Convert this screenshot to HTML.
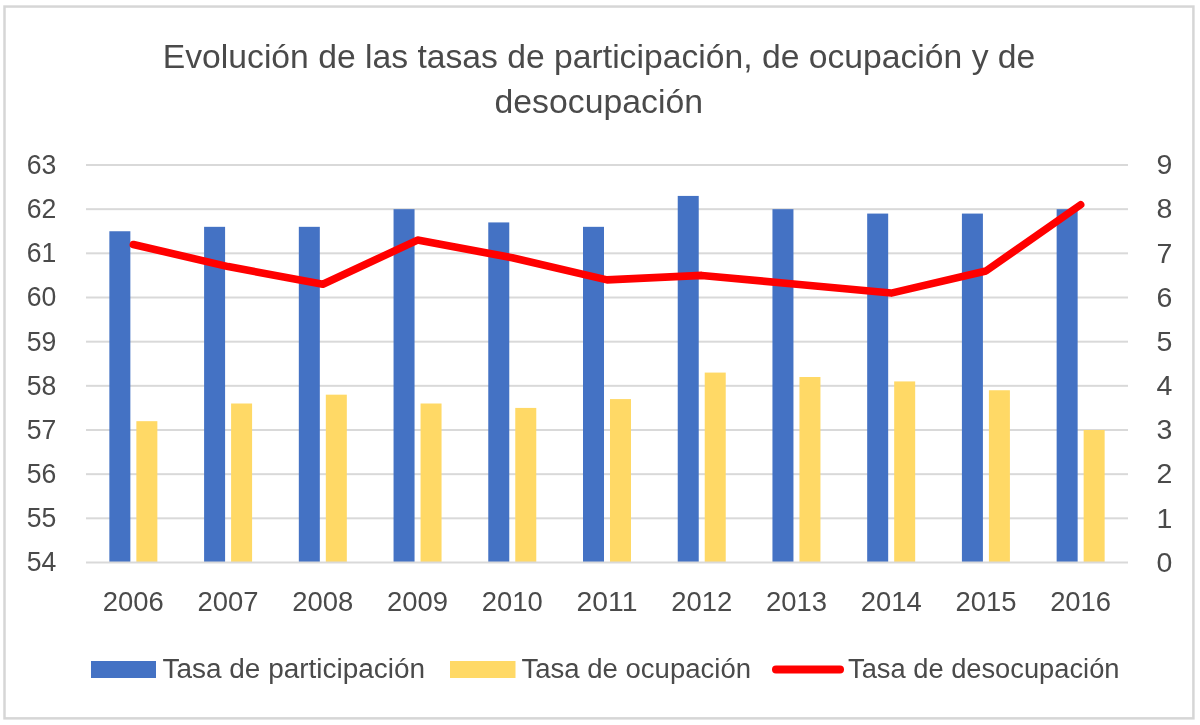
<!DOCTYPE html><html><head><meta charset="utf-8"><style>html,body{margin:0;padding:0;background:#fff;}svg{display:block;filter:blur(0.6px);}text{font-family:"Liberation Sans",sans-serif;fill:#4a4a4a;}</style></head><body>
<svg width="1200" height="725" viewBox="0 0 1200 725">
<rect x="0" y="0" width="1200" height="725" fill="#fff"/>
<rect x="4.5" y="6.55" width="1188.9" height="711.8" fill="#fff" stroke="#d6d6d6" stroke-width="2.5"/>
<rect x="86" y="164.00" width="1042" height="2" fill="#d9d9d9"/>
<rect x="86" y="208.17" width="1042" height="2" fill="#d9d9d9"/>
<rect x="86" y="252.33" width="1042" height="2" fill="#d9d9d9"/>
<rect x="86" y="296.50" width="1042" height="2" fill="#d9d9d9"/>
<rect x="86" y="340.67" width="1042" height="2" fill="#d9d9d9"/>
<rect x="86" y="384.83" width="1042" height="2" fill="#d9d9d9"/>
<rect x="86" y="429.00" width="1042" height="2" fill="#d9d9d9"/>
<rect x="86" y="473.17" width="1042" height="2" fill="#d9d9d9"/>
<rect x="86" y="517.33" width="1042" height="2" fill="#d9d9d9"/>
<rect x="109.36" y="231.25" width="21" height="331.25" fill="#4472c4"/>
<rect x="136.36" y="421.17" width="21" height="141.33" fill="#ffd966"/>
<rect x="204.09" y="226.83" width="21" height="335.67" fill="#4472c4"/>
<rect x="231.09" y="403.50" width="21" height="159.00" fill="#ffd966"/>
<rect x="298.82" y="226.83" width="21" height="335.67" fill="#4472c4"/>
<rect x="325.82" y="394.67" width="21" height="167.83" fill="#ffd966"/>
<rect x="393.55" y="209.17" width="21" height="353.33" fill="#4472c4"/>
<rect x="420.55" y="403.50" width="21" height="159.00" fill="#ffd966"/>
<rect x="488.27" y="222.42" width="21" height="340.08" fill="#4472c4"/>
<rect x="515.27" y="407.92" width="21" height="154.58" fill="#ffd966"/>
<rect x="583.00" y="226.83" width="21" height="335.67" fill="#4472c4"/>
<rect x="610.00" y="399.08" width="21" height="163.42" fill="#ffd966"/>
<rect x="677.73" y="195.92" width="21" height="366.58" fill="#4472c4"/>
<rect x="704.73" y="372.58" width="21" height="189.92" fill="#ffd966"/>
<rect x="772.45" y="209.17" width="21" height="353.33" fill="#4472c4"/>
<rect x="799.45" y="377.00" width="21" height="185.50" fill="#ffd966"/>
<rect x="867.18" y="213.58" width="21" height="348.92" fill="#4472c4"/>
<rect x="894.18" y="381.42" width="21" height="181.08" fill="#ffd966"/>
<rect x="961.91" y="213.58" width="21" height="348.92" fill="#4472c4"/>
<rect x="988.91" y="390.25" width="21" height="172.25" fill="#ffd966"/>
<rect x="1056.64" y="209.17" width="21" height="353.33" fill="#4472c4"/>
<rect x="1083.64" y="430.00" width="21" height="132.50" fill="#ffd966"/>
<rect x="86" y="561.50" width="1042" height="2" fill="#d9d9d9"/>
<polyline points="133.36,244.50 228.09,266.58 322.82,284.25 417.55,240.08 512.27,257.75 607.00,279.83 701.73,275.42 796.45,284.25 891.18,293.08 985.91,271.00 1080.64,204.75" fill="none" stroke="#ff0000" stroke-width="7.6" stroke-linejoin="round" stroke-linecap="round"/>
<text x="162.8" y="67.5" font-size="33" textLength="872.5" lengthAdjust="spacingAndGlyphs">Evolución de las tasas de participación, de ocupación y de</text>
<text x="494.5" y="113" font-size="33" textLength="208.5" lengthAdjust="spacingAndGlyphs">desocupación</text>
<text x="56.3" y="173.90" font-size="28.5" text-anchor="end" textLength="29.6" lengthAdjust="spacingAndGlyphs">63</text>
<text x="1156.5" y="174.30" font-size="28.5">9</text>
<text x="56.3" y="218.07" font-size="28.5" text-anchor="end" textLength="29.6" lengthAdjust="spacingAndGlyphs">62</text>
<text x="1156.5" y="218.47" font-size="28.5">8</text>
<text x="56.3" y="262.23" font-size="28.5" text-anchor="end" textLength="29.6" lengthAdjust="spacingAndGlyphs">61</text>
<text x="1156.5" y="262.63" font-size="28.5">7</text>
<text x="56.3" y="306.40" font-size="28.5" text-anchor="end" textLength="29.6" lengthAdjust="spacingAndGlyphs">60</text>
<text x="1156.5" y="306.80" font-size="28.5">6</text>
<text x="56.3" y="350.57" font-size="28.5" text-anchor="end" textLength="29.6" lengthAdjust="spacingAndGlyphs">59</text>
<text x="1156.5" y="350.97" font-size="28.5">5</text>
<text x="56.3" y="394.73" font-size="28.5" text-anchor="end" textLength="29.6" lengthAdjust="spacingAndGlyphs">58</text>
<text x="1156.5" y="395.13" font-size="28.5">4</text>
<text x="56.3" y="438.90" font-size="28.5" text-anchor="end" textLength="29.6" lengthAdjust="spacingAndGlyphs">57</text>
<text x="1156.5" y="439.30" font-size="28.5">3</text>
<text x="56.3" y="483.07" font-size="28.5" text-anchor="end" textLength="29.6" lengthAdjust="spacingAndGlyphs">56</text>
<text x="1156.5" y="483.47" font-size="28.5">2</text>
<text x="56.3" y="527.23" font-size="28.5" text-anchor="end" textLength="29.6" lengthAdjust="spacingAndGlyphs">55</text>
<text x="1156.5" y="527.63" font-size="28.5">1</text>
<text x="56.3" y="571.40" font-size="28.5" text-anchor="end" textLength="29.6" lengthAdjust="spacingAndGlyphs">54</text>
<text x="1156.5" y="571.80" font-size="28.5">0</text>
<text x="133.36" y="611" font-size="28.5" text-anchor="middle" textLength="61" lengthAdjust="spacingAndGlyphs">2006</text>
<text x="228.09" y="611" font-size="28.5" text-anchor="middle" textLength="61" lengthAdjust="spacingAndGlyphs">2007</text>
<text x="322.82" y="611" font-size="28.5" text-anchor="middle" textLength="61" lengthAdjust="spacingAndGlyphs">2008</text>
<text x="417.55" y="611" font-size="28.5" text-anchor="middle" textLength="61" lengthAdjust="spacingAndGlyphs">2009</text>
<text x="512.27" y="611" font-size="28.5" text-anchor="middle" textLength="61" lengthAdjust="spacingAndGlyphs">2010</text>
<text x="607.00" y="611" font-size="28.5" text-anchor="middle" textLength="61" lengthAdjust="spacingAndGlyphs">2011</text>
<text x="701.73" y="611" font-size="28.5" text-anchor="middle" textLength="61" lengthAdjust="spacingAndGlyphs">2012</text>
<text x="796.45" y="611" font-size="28.5" text-anchor="middle" textLength="61" lengthAdjust="spacingAndGlyphs">2013</text>
<text x="891.18" y="611" font-size="28.5" text-anchor="middle" textLength="61" lengthAdjust="spacingAndGlyphs">2014</text>
<text x="985.91" y="611" font-size="28.5" text-anchor="middle" textLength="61" lengthAdjust="spacingAndGlyphs">2015</text>
<text x="1080.64" y="611" font-size="28.5" text-anchor="middle" textLength="61" lengthAdjust="spacingAndGlyphs">2016</text>
<rect x="91" y="661" width="65" height="17" fill="#4472c4"/>
<text x="162.5" y="678" font-size="27" textLength="262.5" lengthAdjust="spacingAndGlyphs">Tasa de participación</text>
<rect x="450" y="661" width="65.5" height="17" fill="#ffd966"/>
<text x="521.5" y="678" font-size="27" textLength="229.5" lengthAdjust="spacingAndGlyphs">Tasa de ocupación</text>
<line x1="776" y1="669.5" x2="840" y2="669.5" stroke="#ff0000" stroke-width="8" stroke-linecap="round"/>
<text x="848" y="678" font-size="27" textLength="271.5" lengthAdjust="spacingAndGlyphs">Tasa de desocupación</text>
</svg></body></html>
